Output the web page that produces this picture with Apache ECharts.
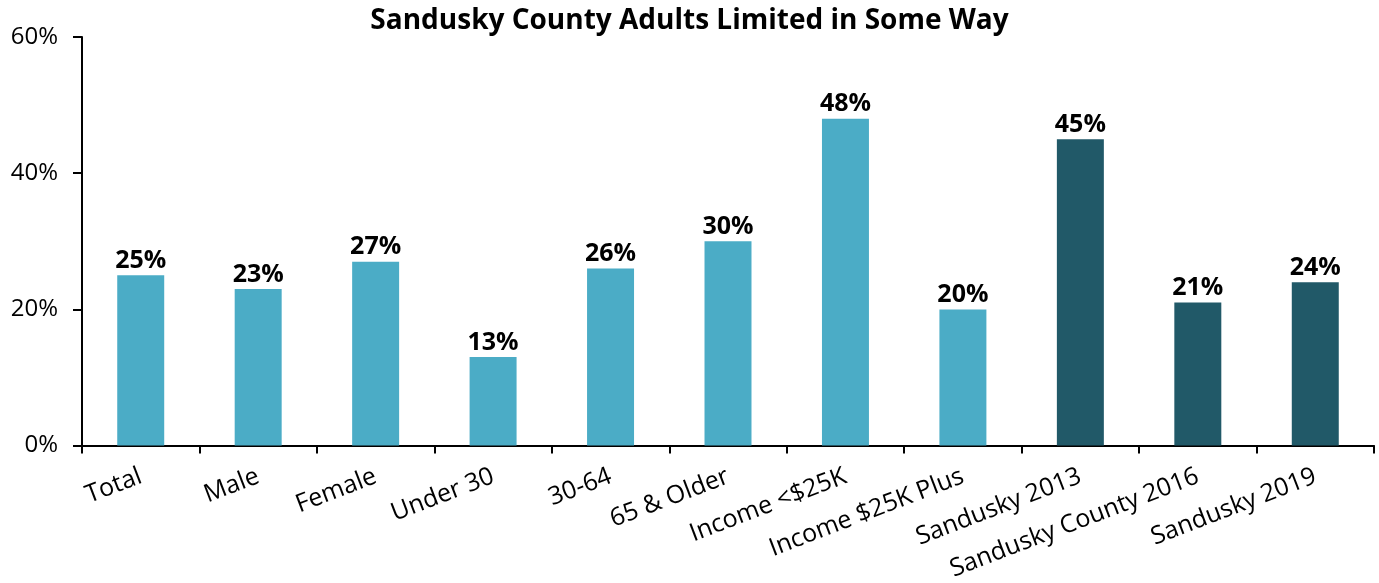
<!DOCTYPE html>
<html><head><meta charset="utf-8">
<script src="https://cdn.jsdelivr.net/npm/echarts@6/dist/echarts.min.js"></script>
<style>html,body{margin:0;padding:0;background:#fff}#c{width:1379px;height:583px}</style>
</head><body><div id="c"></div>
<script>
const categories = ["Total","Male","Female","Under 30","30-64","65 & Older","Income <$25K","Income $25K Plus","Sandusky 2013","Sandusky County 2016","Sandusky 2019"];
const values = [25,23,27,13,26,30,48,20,45,21,24];
const isComparison = [false,false,false,false,false,false,false,false,true,true,true];
const yTicks = [0,20,40,60];
const LIGHT = "#4BACC6", DARK = "#215968";
const FONT = "'Open Sans', 'Noto Sans', sans-serif";
const chart = echarts.init(document.getElementById('c'));
chart.setOption({
  animation:false,
  title:{text:"Sandusky County Adults Limited in Some Way",left:'center',top:2,
    textStyle:{fontFamily:FONT,fontSize:28,fontWeight:'bold',color:'#000'}},
  grid:{left:82,right:5,top:37,bottom:136},
  xAxis:{type:'category',data:categories,
    axisLine:{lineStyle:{color:'#000',width:2}},
    axisTick:{show:true,length:8,lineStyle:{color:'#000',width:2}},
    axisLabel:{rotate:21,fontFamily:FONT,fontSize:25,color:'#000',margin:30,interval:0}},
  yAxis:{type:'value',min:yTicks[0],max:yTicks[yTicks.length-1],interval:20,
    splitLine:{show:false},
    axisLine:{show:true,lineStyle:{color:'#000',width:2}},
    axisTick:{show:true,length:9,lineStyle:{color:'#000',width:2}},
    axisLabel:{formatter:'{value}%',fontFamily:FONT,fontSize:24,color:'#000',margin:24}},
  series:[{type:'bar',barWidth:'40%',
    data:values.map((v,i)=>({value:v,itemStyle:{color:isComparison[i]?DARK:LIGHT}})),
    label:{show:true,position:'top',formatter:'{c}%',fontFamily:FONT,fontSize:25,fontWeight:'bold',color:'#000',distance:2}}]
});
</script></body></html>
